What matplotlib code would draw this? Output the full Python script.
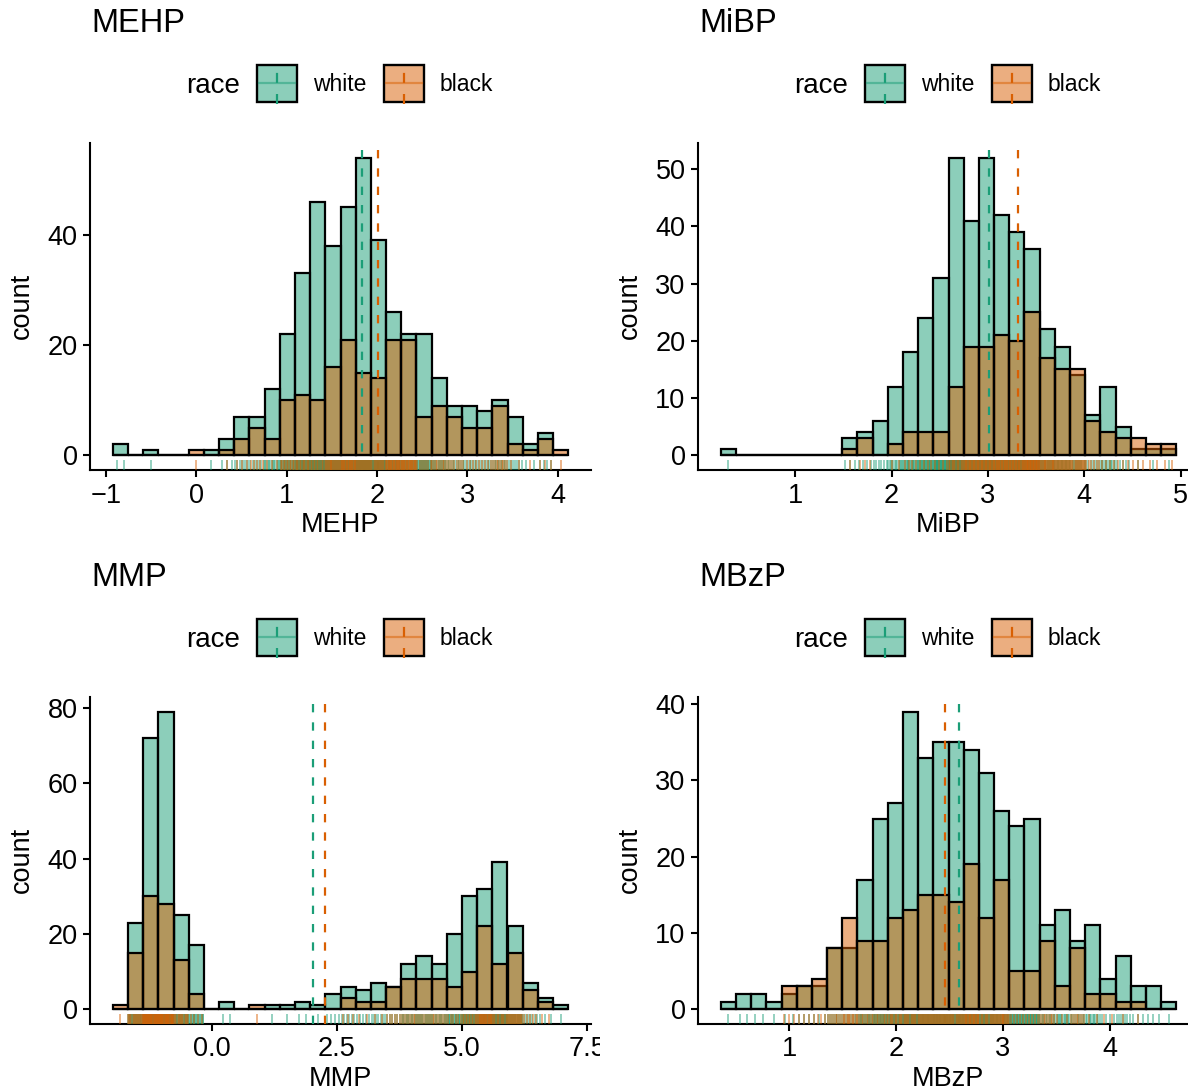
import numpy as np
import matplotlib.pyplot as plt
from matplotlib.patches import Rectangle
from matplotlib.lines import Line2D
from matplotlib.transforms import Affine2D

plt.rcParams['font.family'] = ['Liberation Sans', 'DejaVu Sans']

# counts per bin (30 bins)
mehp_white = [2, 0, 1, 0, 0, 0, 1, 3, 7, 7, 12, 22, 33, 46, 38, 45, 54, 39, 26, 22, 22, 14, 9, 9, 8, 10, 7, 2, 4, 0]
mehp_black = [0, 0, 0, 0, 0, 1, 0, 1, 3, 5, 3, 10, 11, 10, 16, 21, 15, 14, 21, 21, 7, 9, 7, 5, 5, 9, 2, 1, 3, 1]
mehp_range = (-0.923, 4.114)
mehp_means = (1.838, 2.007)

mibp_white = [1, 0, 0, 0, 0, 0, 0, 0, 3, 4, 6, 12, 18, 24, 31, 52, 41, 52, 42, 39, 36, 22, 19, 14, 7, 12, 5, 1, 1, 1]
mibp_black = [0, 0, 0, 0, 0, 0, 0, 0, 1, 3, 0, 2, 4, 4, 4, 12, 19, 19, 21, 20, 25, 17, 15, 15, 6, 4, 3, 3, 2, 2]
mibp_range = (0.228, 4.955)
mibp_means = (3.017, 3.308)

mmp_white = [0, 23, 72, 79, 25, 17, 0, 2, 0, 0, 1, 1, 2, 1, 4, 6, 5, 7, 6, 12, 14, 12, 20, 30, 32, 39, 22, 7, 3, 1]
mmp_black = [1, 15, 30, 28, 13, 4, 0, 0, 0, 1, 0, 0, 0, 0, 0, 3, 2, 2, 6, 8, 8, 8, 6, 10, 22, 12, 15, 5, 2, 0]
mmp_range = (-1.98, 7.12)
mmp_means = (2.02, 2.267)

mbzp_white = [1, 2, 2, 1, 2, 3, 3, 8, 8, 17, 25, 27, 39, 33, 35, 35, 34, 31, 26, 24, 25, 11, 13, 9, 11, 4, 7, 3, 3, 1]
mbzp_black = [0, 0, 0, 0, 3, 3, 4, 8, 12, 9, 9, 12, 13, 15, 15, 14, 19, 12, 17, 5, 5, 9, 3, 8, 2, 2, 1, 1, 0, 0]
mbzp_range = (0.356, 4.625)
mbzp_means = (2.5875, 2.459)

races = ['white', 'black']
colors = ['#1B9E77', '#D95F02']

W, H = 1188, 1091
fig = plt.figure(figsize=(W / 100, H / 100), dpi=100)
# pixel coords, origin top-left
tr = Affine2D().scale(1 / W, -1 / H).translate(0, 1) + fig.transFigure


def px_axes(x0, y0, x1, y1):
    return fig.add_axes([x0 / W, 1 - y1 / H, (x1 - x0) / W, (y1 - y0) / H])


def rgba(c, a):
    r, g, b = plt.matplotlib.colors.to_rgb(c)
    return (r, g, b, a)


def draw_legend(ox, oy):
    fig.text((186 + ox) / W, 1 - (93 + oy) / H, 'race', fontsize=20, va='baseline')
    for i, (name, c) in enumerate(zip(races, colors)):
        kx = 257 + 127 * i + ox
        ky = 65 + oy
        fig.add_artist(Rectangle((kx, ky), 40, 37, transform=tr, facecolor=rgba(c, 0.5),
                                 edgecolor='black', linewidth=1.7))
        fig.add_artist(Line2D([kx + 2, kx + 38], [ky + 18, ky + 18], transform=tr,
                              color=c, alpha=0.5, linewidth=1.6))
        fig.add_artist(Line2D([kx + 20, kx + 20], [ky + 39, ky - 3], transform=tr,
                              color=c, linewidth=1.6, linestyle=(0, (4.5, 5))))
        fig.text((kx + 56) / W, 1 - (91 + oy) / H, name, fontsize=16.5, va='baseline')


def panel(name, white, black, rng, means, xticks, xlabels, yticks, ox, oy):
    ax = px_axes(90 + ox, 143 + oy, 591 + ox, 470 + oy)
    lo, hi = rng
    edges = np.linspace(lo, hi, len(white) + 1)
    width = edges[1] - edges[0]

    for k, (counts, c) in enumerate(zip([white, black], colors)):
        ax.bar(edges[:-1], counts, width=width, align='edge', facecolor=rgba(c, 0.5),
               edgecolor='black', linewidth=1.6, zorder=2 + k)
    for m, c in zip(means, colors):
        ax.axvline(m, color=c, linewidth=1.6, linestyle=(0, (3.75, 4.5)), zorder=5)

    # rug: one tick per counted value, spread across its bin
    for counts, c in zip([white, black], colors):
        xs = []
        for i, n in enumerate(counts):
            for j in range(n):
                xs.append(edges[i] + (j + 0.5) / n * width)
        ax.vlines(xs, 0, 0.032, transform=ax.get_xaxis_transform(), color=c,
                  alpha=0.5, linewidth=1.3, zorder=6)

    ax.set_xlim(lo - 0.05 * (hi - lo), hi + 0.05 * (hi - lo))
    ymax = max(max(white), max(black))
    ax.set_ylim(-0.05 * ymax, 1.05 * ymax)
    ax.set_xticks(xticks)
    ax.set_xticklabels(xlabels)
    ax.set_yticks(yticks)
    for s in ['top', 'right']:
        ax.spines[s].set_visible(False)
    for s in ['left', 'bottom']:
        ax.spines[s].set_linewidth(1.5)
    ax.tick_params(length=5, width=1.5, labelsize=19.5, pad=4)

    fig.text((91 + ox) / W, 1 - (32 + oy) / H, name, fontsize=23.5, va='baseline')
    fig.text((22 + ox) / W, 1 - (306 + oy) / H, 'count', fontsize=19.5, rotation=90,
             ha='center', va='center')
    fig.text((340 + ox) / W, 1 - (532 + oy) / H, name, fontsize=19.5, ha='center', va='baseline')
    draw_legend(ox, oy)
    return ax


panel('MEHP', mehp_white, mehp_black, mehp_range, mehp_means,
      [-1, 0, 1, 2, 3, 4], ['\u22121', '0', '1', '2', '3', '4'], [0, 20, 40], 0, 0)
panel('MiBP', mibp_white, mibp_black, mibp_range, mibp_means,
      [1, 2, 3, 4, 5], ['1', '2', '3', '4', '5'], [0, 10, 20, 30, 40, 50], 608, 0)
panel('MMP', mmp_white, mmp_black, mmp_range, mmp_means,
      [0, 2.5, 5, 7.5], ['0.0', '2.5', '5.0', '7.5'], [0, 20, 40, 60, 80], 0, 554)
panel('MBzP', mbzp_white, mbzp_black, mbzp_range, mbzp_means,
      [1, 2, 3, 4], ['1', '2', '3', '4'], [0, 10, 20, 30, 40], 608, 554)

# the 7.5 label is cut at the panel border in the original
fig.add_artist(Rectangle((600, 1030), 26, 45, transform=tr, facecolor='white',
                         edgecolor='none', zorder=10))

fig.savefig('out.png', dpi=100)
